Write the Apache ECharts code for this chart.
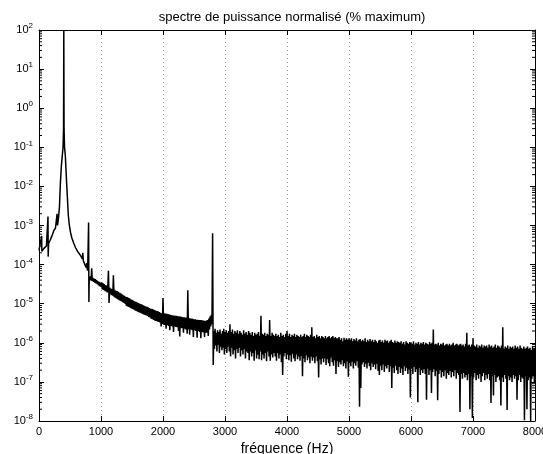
<!DOCTYPE html>
<html><head><meta charset="utf-8">
<script src="https://cdn.jsdelivr.net/npm/echarts@6/dist/echarts.min.js"></script>
<style>html,body{margin:0;padding:0;background:#fff;overflow:hidden}#c{width:543px;height:454px}</style>
</head><body><div id="c"></div>
<script>
const titleText = 'spectre de puissance normalisé (% maximum)';
const xName = 'fréquence (Hz)';
const xMin = 0, xMax = 8000, xStep = 1000;
const yMin = 1e-8, yMax = 100;

// Low-frequency part (fundamental peak at 400 Hz), frequency / normalised power
const peakFreq = [0, 15, 30, 43, 46, 60, 80, 100, 120, 135, 145, 148, 155, 180, 210, 240, 265, 285, 292, 298, 315, 330, 345, 360, 375, 388, 396, 400, 404, 412, 425, 435, 446, 460, 473, 490, 510, 530, 560, 590, 620, 650, 680, 700, 706, 715, 740, 760, 770, 776, 785, 795, 800, 805];
const peakPower = [2.3e-4, 2.1e-4, 2.2e-4, 5.4e-4, 2.2e-4, 2.4e-4, 2.6e-4, 2.8e-4, 3.0e-4, 3.2e-4, 1.7e-3, 1.6e-4, 3.5e-4, 4.2e-4, 5.5e-4, 7.5e-4, 8.5e-4, 9.5e-4, 2.0e-3, 1.0e-3, 1.6e-3, 3.0e-3, 1.2e-2, 3.2e-2, 6.0e-2, 0.1, 0.3, 100, 0.3, 0.1, 6.0e-2, 2.8e-2, 1.2e-2, 4.5e-3, 1.8e-3, 1.0e-3, 6.5e-4, 4.8e-4, 3.5e-4, 2.7e-4, 2.2e-4, 1.9e-4, 1.6e-4, 1.4e-4, 2.0e-4, 1.25e-4, 1.0e-4, 8.5e-5, 1.1e-4, 8.0e-5, 7.0e-5, 7.5e-5, 1.2e-3, 1.1e-5];

// Mid band, 10 Hz bins from 810 Hz to 2800 Hz (ends on the 2800 Hz line)
const midStartHz = 810, midStepHz = 10;
const midPower = [
4.9e-5, 4.1e-5, 5.0e-5, 3.9e-5, 8.0e-5, 3.8e-5, 4.6e-5, 3.6e-5, 4.4e-5, 3.45e-5, 4.25e-5, 3.3e-5, 4.0e-5, 3.15e-5, 3.8e-5, 2.95e-5, 3.6e-5, 2.8e-5, 3.45e-5, 2.7e-5,
3.5e-5, 2.35e-5, 3.35e-5, 2.25e-5, 3.2e-5, 2.15e-5, 3.0e-5, 2.05e-5, 2.9e-5, 1.95e-5, 2.75e-5, 7.0e-5, 1.05e-5, 2.6e-5, 1.75e-5, 2.45e-5, 1.65e-5, 2.35e-5, 1.6e-5, 5.3e-5,
1.5e-5, 2.25e-5, 1.42e-5, 2.15e-5, 1.37e-5, 2.1e-5, 1.3e-5, 2.0e-5, 1.25e-5, 1.9e-5, 1.2e-5, 1.85e-5, 1.15e-5, 1.75e-5, 1.1e-5, 1.65e-5, 1.05e-5, 1.6e-5, 9.8e-6, 1.5e-5,
8.8e-6, 1.47e-5, 8.5e-6, 1.42e-5, 8.2e-6, 1.37e-5, 7.9e-6, 1.3e-5, 7.6e-6, 1.26e-5, 7.3e-6, 1.2e-5, 7.0e-6, 1.15e-5, 6.7e-6, 1.12e-5, 6.5e-6, 1.08e-5, 6.2e-6, 1.04e-5,
6.1e-6, 1.01e-5, 5.9e-6, 9.8e-6, 5.7e-6, 9.5e-6, 5.5e-6, 9.1e-6, 5.3e-6, 8.8e-6, 5.15e-6, 8.6e-6, 5.0e-6, 8.3e-6, 4.85e-6, 8.1e-6, 4.6e-6, 7.7e-6, 4.45e-6, 7.4e-6,
4.15e-6, 7.4e-6, 4.0e-6, 7.15e-6, 3.85e-6, 6.9e-6, 3.7e-6, 6.7e-6, 3.6e-6, 6.5e-6, 3.5e-6, 6.35e-6, 3.4e-6, 6.1e-6, 3.3e-6, 5.9e-6, 2.6e-6, 5.7e-6, 3.05e-6, 1.4e-5,
2.9e-6, 5.7e-6, 2.85e-6, 5.6e-6, 2.3e-6, 5.5e-6, 2.8e-6, 5.4e-6, 2.7e-6, 5.3e-6, 2.1e-6, 5.2e-6, 2.7e-6, 5.1e-6, 2.6e-6, 5.0e-6, 1.9e-6, 5.0e-6, 2.6e-6, 4.9e-6,
2.55e-6, 4.9e-6, 2.5e-6, 4.8e-6, 2.0e-6, 4.8e-6, 1.45e-6, 4.7e-6, 2.4e-6, 4.6e-6, 2.35e-6, 4.5e-6, 1.8e-6, 4.5e-6, 2.3e-6, 4.4e-6, 2.2e-6, 4.4e-6, 1.7e-6, 2.2e-5,
2.2e-6, 4.3e-6, 1.6e-6, 4.2e-6, 2.2e-6, 4.2e-6, 2.1e-6, 4.1e-6, 1.4e-6, 4.0e-6, 2.1e-6, 4.0e-6, 2.0e-6, 3.9e-6, 1.35e-6, 3.9e-6, 2.0e-6, 3.8e-6, 1.9e-6, 3.8e-6,
1.3e-6, 3.8e-6, 1.9e-6, 3.7e-6, 1.85e-6, 3.7e-6, 1.4e-6, 3.6e-6, 1.8e-6, 3.7e-6, 1.8e-6, 3.8e-6, 1.5e-6, 4.2e-6, 2.2e-6, 4.8e-6, 2.6e-6, 5.2e-6, 3.0e-6, 6.3e-4
];

// High band, 10 Hz bins from 2810 Hz to 8000 Hz
const highStartHz = 2810, highStepHz = 10;
const highPower = [
2.7e-7, 2.0e-6, 7.0e-7, 2.3e-6, 8.5e-7, 1.8e-6, 6.0e-7, 2.1e-6, 9.0e-7, 1.9e-6, 5.5e-7, 2.2e-6, 8.0e-7, 1.7e-6, 6.5e-7, 2.0e-6, 7.5e-7, 2.3e-6, 5.0e-7, 1.9e-6,
7.0e-7, 2.1e-6, 5.5e-7, 1.8e-6, 8.0e-7, 2.0e-6, 6.0e-7, 3.0e-6, 4.5e-7, 1.9e-6, 7.5e-7, 2.2e-6, 5.0e-7, 1.7e-6, 6.5e-7, 2.0e-6, 4.0e-7, 1.8e-6, 7.0e-7, 2.1e-6,
5.5e-7, 1.7e-6, 7.5e-7, 2.0e-6, 4.5e-7, 1.8e-6, 6.5e-7, 1.6e-6, 5.0e-7, 2.1e-6, 7.0e-7, 1.7e-6, 4.0e-7, 1.9e-6, 6.0e-7, 1.6e-6, 5.5e-7, 2.0e-6, 3.6e-7, 1.8e-6,
6.0e-7, 1.6e-6, 4.5e-7, 1.9e-6, 5.5e-7, 1.5e-6, 3.5e-7, 1.8e-6, 6.5e-7, 1.6e-6, 4.0e-7, 1.7e-6, 5.0e-7, 1.9e-6, 3.8e-7, 1.5e-6, 6.0e-7, 4.9e-6, 3.6e-7, 1.7e-6,
5.0e-7, 1.6e-6, 4.0e-7, 1.8e-6, 5.5e-7, 1.5e-6, 3.4e-7, 1.7e-6, 6.0e-7, 1.6e-6, 4.5e-7, 3.8e-6, 3.5e-7, 1.5e-6, 5.0e-7, 1.8e-6, 4.2e-7, 1.6e-6, 5.5e-7, 1.5e-6,
4.5e-7, 1.7e-6, 3.5e-7, 1.5e-6, 5.5e-7, 1.6e-6, 4.0e-7, 1.4e-6, 5.0e-7, 1.8e-6, 3.2e-7, 1.5e-6, 1.5e-7, 1.6e-6, 4.5e-7, 1.4e-6, 5.5e-7, 1.7e-6, 3.8e-7, 2.0e-6,
5.0e-7, 1.5e-6, 3.6e-7, 1.7e-6, 4.8e-7, 1.4e-6, 3.3e-7, 1.6e-6, 5.2e-7, 1.5e-6, 4.0e-7, 1.7e-6, 3.4e-7, 1.4e-6, 5.0e-7, 1.6e-6, 3.8e-7, 1.5e-6, 4.5e-7, 1.4e-6,
3.5e-7, 1.6e-6, 4.6e-7, 1.4e-6, 1.4e-7, 1.5e-6, 4.0e-7, 1.7e-6, 3.2e-7, 1.4e-6, 4.8e-7, 1.6e-6, 3.6e-7, 1.5e-6, 4.2e-7, 1.4e-6, 3.0e-7, 1.6e-6, 4.4e-7, 2.5e-6,
3.5e-7, 1.4e-6, 4.2e-7, 1.5e-6, 3.0e-7, 1.3e-6, 4.5e-7, 1.6e-6, 3.4e-7, 1.4e-6, 1.3e-7, 1.5e-6, 3.8e-7, 1.3e-6, 2.8e-7, 1.5e-6, 4.0e-7, 1.4e-6, 3.2e-7, 1.3e-6,
4.0e-7, 1.5e-6, 2.7e-7, 1.3e-6, 3.8e-7, 1.4e-6, 3.0e-7, 1.5e-6, 2.5e-7, 1.3e-6, 4.2e-7, 1.4e-6, 3.2e-7, 1.5e-6, 2.6e-7, 1.3e-6, 3.6e-7, 1.4e-6, 1.6e-7, 1.3e-6,
3.4e-7, 1.3e-6, 2.4e-7, 1.4e-6, 3.2e-7, 1.2e-6, 2.8e-7, 1.3e-6, 3.6e-7, 1.1e-6, 2.5e-7, 1.35e-6, 3.0e-7, 1.2e-6, 2.2e-7, 1.3e-6, 3.4e-7, 1.2e-6, 1.35e-7, 1.3e-6,
3.0e-7, 1.2e-6, 2.5e-7, 1.3e-6, 3.3e-7, 1.1e-6, 2.2e-7, 1.25e-6, 3.0e-7, 1.15e-6, 2.6e-7, 1.3e-6, 3.4e-7, 1.1e-6, 2.3e-7, 1.2e-6, 2.3e-8, 1.25e-6, 7.0e-8, 1.1e-6,
2.8e-7, 1.2e-6, 3.2e-7, 1.1e-6, 2.4e-7, 1.3e-6, 2.9e-7, 1.05e-6, 2.2e-7, 1.2e-6, 3.1e-7, 1.1e-6, 2.5e-7, 1.25e-6, 2.0e-7, 1.1e-6, 3.0e-7, 1.2e-6, 2.4e-7, 1.05e-6,
2.8e-7, 1.2e-6, 2.1e-7, 1.1e-6, 2.9e-7, 1.0e-6, 1.9e-7, 1.15e-6, 1.5e-7, 1.2e-6, 2.6e-7, 1.05e-6, 2.0e-7, 1.15e-6, 2.8e-7, 1.0e-6, 1.8e-7, 1.2e-6, 2.5e-7, 1.1e-6,
2.2e-7, 1.15e-6, 2.7e-7, 1.0e-6, 1.8e-7, 1.1e-6, 2.5e-7, 1.2e-6, 7.0e-8, 1.05e-6, 2.3e-7, 1.0e-6, 1.7e-7, 1.15e-6, 2.6e-7, 1.0e-6, 2.0e-7, 1.1e-6, 1.6e-7, 1.05e-6,
2.4e-7, 1.0e-6, 1.7e-7, 1.1e-6, 2.2e-7, 9.5e-7, 1.5e-7, 1.05e-6, 2.5e-7, 9.0e-7, 1.9e-7, 1.1e-6, 2.3e-7, 1.0e-6, 1.6e-7, 9.5e-7, 2.1e-7, 1.05e-6, 4.0e-8, 1.0e-6,
2.2e-7, 9.5e-7, 1.6e-7, 1.1e-6, 2.4e-7, 9.0e-7, 1.8e-7, 1.0e-6, 2.1e-7, 9.5e-7, 3.0e-8, 1.05e-6, 2.3e-7, 9.0e-7, 1.5e-7, 1.0e-6, 2.0e-7, 9.5e-7, 1.7e-7, 1.05e-6,
2.1e-7, 9.0e-7, 1.6e-7, 1.0e-6, 3.5e-8, 9.5e-7, 2.2e-7, 9.0e-7, 1.5e-7, 1.05e-6, 2.0e-7, 9.5e-7, 5.2e-8, 1.0e-6, 1.8e-7, 2.2e-6, 2.1e-7, 9.0e-7, 1.4e-7, 9.5e-7,
1.9e-7, 9.0e-7, 3.4e-8, 1.0e-6, 1.6e-7, 8.5e-7, 2.0e-7, 9.5e-7, 1.3e-7, 9.0e-7, 1.8e-7, 1.0e-6, 1.4e-7, 8.5e-7, 2.0e-7, 9.0e-7, 1.2e-7, 9.5e-7, 1.7e-7, 8.5e-7,
1.5e-7, 9.5e-7, 1.9e-7, 8.5e-7, 1.3e-7, 9.0e-7, 1.8e-7, 1.0e-6, 1.4e-7, 8.5e-7, 2.0e-7, 9.0e-7, 1.2e-7, 9.5e-7, 1.7e-7, 8.5e-7, 1.5e-7, 9.0e-7, 1.7e-8, 9.5e-7,
1.6e-7, 8.5e-7, 1.2e-7, 9.0e-7, 1.7e-7, 8.0e-7, 1.3e-7, 9.5e-7, 1.5e-7, 1.8e-6, 1.1e-7, 8.5e-7, 1.6e-7, 9.0e-7, 2.0e-8, 8.0e-7, 1.4e-7, 9.0e-7, 1.2e-8, 1.3e-6,
1.3e-7, 8.5e-7, 1.7e-7, 8.0e-7, 1.1e-7, 9.0e-7, 1.5e-7, 7.5e-7, 1.2e-7, 8.5e-7, 1.6e-7, 8.0e-7, 1.0e-7, 9.0e-7, 1.4e-7, 7.5e-7, 1.7e-7, 8.5e-7, 1.1e-7, 8.0e-7,
1.5e-7, 8.5e-7, 1.2e-7, 7.5e-7, 1.6e-7, 9.0e-7, 1.1e-7, 8.0e-7, 2.9e-8, 8.5e-7, 1.4e-7, 7.5e-7, 4.5e-8, 8.0e-7, 1.5e-7, 9.0e-7, 1.0e-7, 7.5e-7, 1.3e-7, 8.5e-7,
1.4e-7, 8.0e-7, 1.1e-7, 7.5e-7, 2.5e-8, 8.5e-7, 1.3e-7, 2.5e-6, 1.0e-7, 7.0e-7, 1.5e-7, 8.0e-7, 1.2e-7, 7.5e-7, 1.9e-8, 8.5e-7, 1.4e-7, 7.0e-7, 1.1e-7, 8.0e-7,
1.3e-7, 7.5e-7, 1.0e-7, 8.0e-7, 1.5e-7, 7.0e-7, 1.2e-7, 8.5e-7, 1.4e-7, 7.5e-7, 3.5e-8, 8.0e-7, 1.1e-7, 7.0e-7, 1.5e-7, 8.5e-7, 1.0e-7, 7.5e-7, 1.3e-7, 7.0e-7,
1.2e-7, 8.0e-7, 1.05e-8, 7.0e-7, 1.4e-7, 7.5e-7, 2.0e-8, 8.0e-7, 1.1e-7, 7.0e-7, 1.3e-7, 7.5e-7, 1.0e-8, 6.5e-7, 1.2e-7, 8.0e-7, 1.4e-7, 7.0e-7, 1.0e-7, 7.5e-7
];

const FONT = '"Liberation Sans", Arial, Helvetica, sans-serif';

const spectrum = peakFreq.map((f, i) => [f, peakPower[i]]);
midPower.forEach((v, i) => spectrum.push([midStartHz + i * midStepHz, v]));
highPower.forEach((v, i) => spectrum.push([highStartHz + i * highStepHz, v]));

// minor log ticks (2..9 x 10^k) drawn as axis decoration
const minorTicks = [];
for (let k = -8; k < 2; k++) for (let m = 2; m <= 9; m++) minorTicks.push([0, m * Math.pow(10, k)]);

const chart = echarts.init(document.getElementById('c'), null, {renderer: 'canvas', width: 543, height: 454});
const yLabel = {
  formatter: v => '{b|10}{e|' + Math.round(Math.log10(v)) + '}',
  rich: {
    b: {fontSize: 11, fontFamily: FONT, color: '#000'},
    e: {fontSize: 8, fontFamily: FONT, color: '#000', padding: [0, 0, 8, 0]}
  },
  margin: 6, interval: 0, hideOverlap: false, showMinLabel: true, showMaxLabel: true
};
const frameLine = {show: true, onZero: false, lineStyle: {color: '#000', width: 1}};
chart.setOption({
  animation: false,
  backgroundColor: '#fff',
  title: {
    text: titleText, left: 287, top: 6, textAlign: 'center',
    textStyle: {fontSize: 13, fontWeight: 'normal', color: '#000', fontFamily: FONT}
  },
  grid: {left: 39, right: 8, top: 30, bottom: 33, containLabel: false, outerBoundsMode: 'none'},
  xAxis: [{
    type: 'value', min: xMin, max: xMax, interval: xStep, position: 'bottom',
    name: xName, nameLocation: 'middle', nameGap: 17,
    nameTextStyle: {fontSize: 14, color: '#000', fontFamily: FONT},
    axisLine: frameLine,
    axisTick: {inside: true, length: 5, lineStyle: {color: '#000'}},
    axisLabel: {fontSize: 11, color: '#000', fontFamily: FONT, margin: 5, showMaxLabel: true, formatter: v => String(v)},
    splitLine: {show: true, lineStyle: {color: '#9a9a9a', type: [1, 3], width: 1}}
  }, {
    type: 'value', min: xMin, max: xMax, interval: xStep, position: 'top',
    axisLine: frameLine,
    axisTick: {inside: true, length: 5, lineStyle: {color: '#000'}},
    axisLabel: {show: false}, splitLine: {show: false}
  }],
  yAxis: [{
    type: 'log', logBase: 10, min: yMin, max: yMax, interval: 1, splitNumber: 10, position: 'left',
    axisLine: frameLine,
    axisTick: {show: true, inside: true, length: 5, interval: 0, lineStyle: {color: '#000'}},
    axisLabel: yLabel,
    splitLine: {show: false}
  }, {
    type: 'log', logBase: 10, min: yMin, max: yMax, interval: 1, splitNumber: 10, position: 'right',
    axisLine: frameLine,
    axisTick: {show: true, inside: true, length: 5, interval: 0, lineStyle: {color: '#000'}},
    axisLabel: {show: false}, splitLine: {show: false}
  }],
  series: [{
    type: 'line', data: spectrum, xAxisIndex: 0, yAxisIndex: 0,
    showSymbol: false, symbol: 'none',
    lineStyle: {color: '#000', width: 1.5},
    clip: true, silent: true
  }, {
    type: 'custom', data: minorTicks, xAxisIndex: 0, yAxisIndex: 0, silent: true,
    encode: {x: 0, y: 1},
    renderItem: (params, api) => {
      const y = api.coord([0, api.value(1)])[1];
      const cs = params.coordSys;
      const x0 = cs.x, x1 = cs.x + cs.width;
      return {type: 'group', children: [
        {type: 'line', shape: {x1: x0, y1: y, x2: x0 + 3, y2: y}, style: {stroke: '#000', lineWidth: 1}},
        {type: 'line', shape: {x1: x1 - 3, y1: y, x2: x1, y2: y}, style: {stroke: '#000', lineWidth: 1}}
      ]};
    }
  }]
});
</script>
</body></html>
